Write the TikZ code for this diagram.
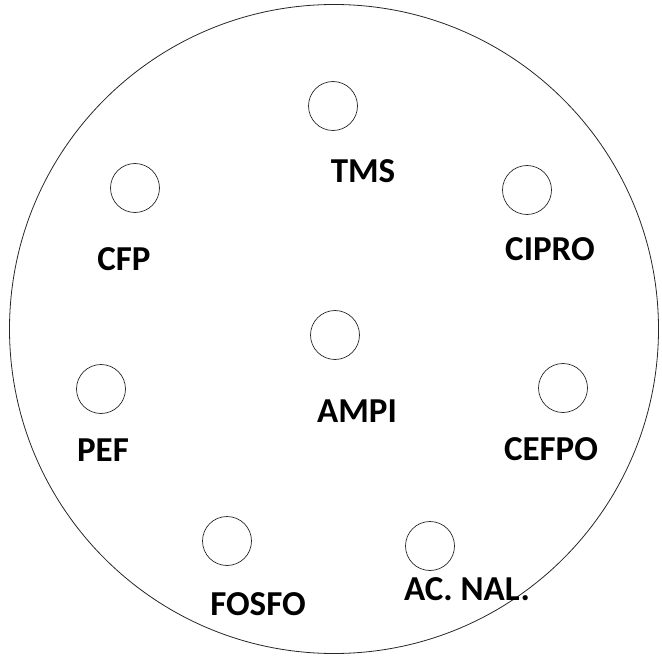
\documentclass[tikz,border=0pt]{standalone}
\usepackage{fontspec}
\setmainfont{Carlito}
\usetikzlibrary{positioning}
\tikzstyle{plate} = [
    circle,
    draw=black!85,
    line width=0.8pt,
    minimum size=649pt,
    inner sep=0pt
]
\tikzstyle{disk} = [
    circle,
    draw=black!85,
    line width=0.7pt,
    minimum size=49pt,
    inner sep=0pt
]
\tikzstyle{drug} = [
    inner sep=0pt,
    font=\fontsize{35}{40}\selectfont\bfseries
]
\begin{document}
\begin{tikzpicture}[x=1pt, y=-1pt]
        \useasboundingbox (0,0) rectangle (662,658);
        % Petri dish
        \node[plate] (dish) at (334,329) {};

        % Antibiotic disks
        \node[disk] (tms) at (333,106) {};
        \node[disk] (cfp) at (135,188) {};
        \node[disk] (cipro) at (527,190) {};
        \node[disk] (ampi) at (335,335) {};
        \node[disk] (pef) at (101,389) {};
        \node[disk] (cefpo) at (563,388) {};
        \node[disk] (fosfo) at (227,541) {};
        \node[disk] (acnal) at (430,546) {};

        % Labels
        \node[drug] (tmsL) at (363,171) {TMS};
        \node[drug] (cfpL) at (124,259) {CFP};
        \node[drug] (ciproL) at (550,249) {CIPRO};
        \node[drug] (ampiL) at (357,411) {AMPI};
        \node[drug] (pefL) at (103,450) {PEF};
        \node[drug] (cefpoL) at (551,449) {CEFPO};
        \node[drug] (fosfoL) at (258,604) {FOSFO};
        \node[drug] (acnalL) at (467,589) {AC. NAL.};
    \end{tikzpicture}
\end{document}
